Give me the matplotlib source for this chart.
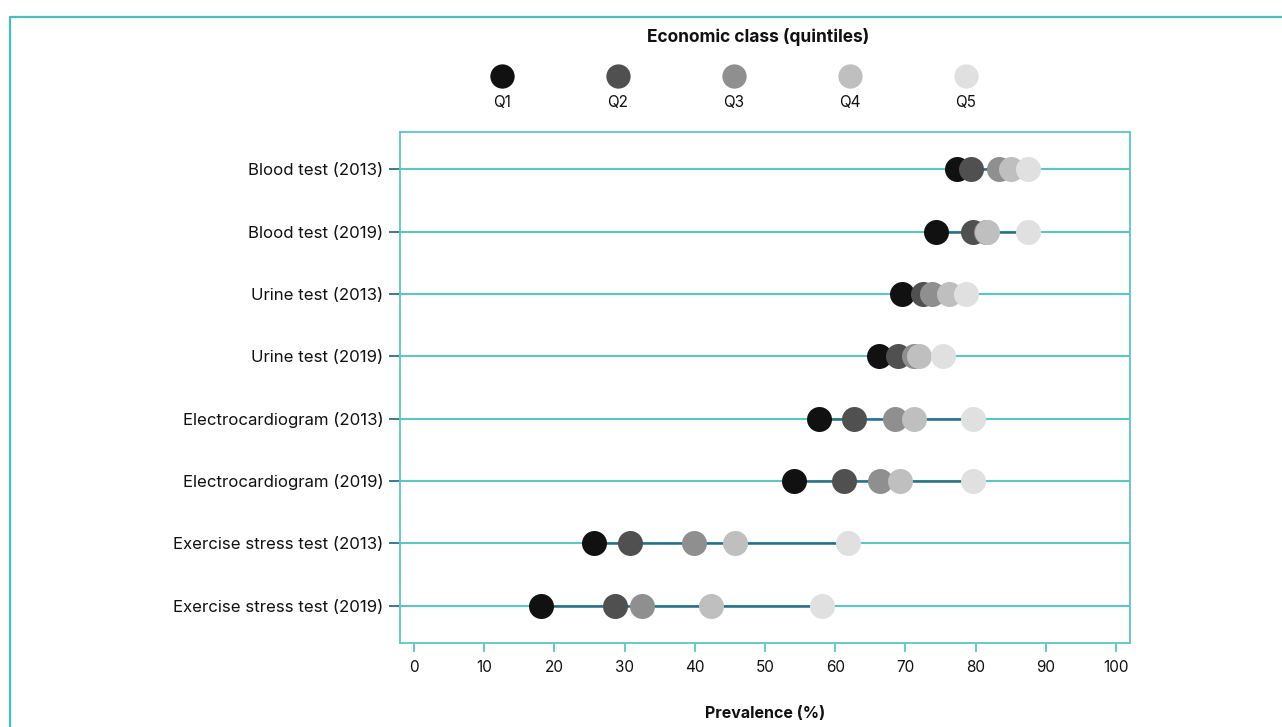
import matplotlib
matplotlib.use("Agg")
import matplotlib.pyplot as plt
from matplotlib.lines import Line2D

categories = [
    "Blood test (2013)",
    "Blood test (2019)",
    "Urine test (2013)",
    "Urine test (2019)",
    "Electrocardiogram (2013)",
    "Electrocardiogram (2019)",
    "Exercise stress test (2013)",
    "Exercise stress test (2019)",
]
quintiles = ["Q1", "Q2", "Q3", "Q4", "Q5"]
q1 = [77.3, 74.3, 69.5, 66.2, 57.7, 54.1, 25.7, 18.1]
q2 = [79.3, 79.6, 72.5, 68.9, 62.7, 61.2, 30.8, 28.6]
q3 = [83.3, 81.5, 73.8, 71.2, 68.5, 66.4, 39.9, 32.5]
q4 = [85.0, 81.6, 76.2, 72.0, 71.2, 69.3, 45.7, 42.3]
q5 = [87.5, 87.5, 78.6, 75.3, 79.6, 79.6, 61.8, 58.1]
series = [q1, q2, q3, q4, q5]
colors = ["#111111", "#505050", "#8f8f8f", "#bfbfbf", "#e0e0e0"]
xticks = [0, 10, 20, 30, 40, 50, 60, 70, 80, 90, 100]

plt.rcParams["font.family"] = ["Inter", "DejaVu Sans"]
teal = "#5cc6c6"
dark = "#2b6e8c"

W, H = 1282, 727
fig = plt.figure(figsize=(W / 100, H / 100), dpi=100)
ax = fig.add_axes([400 / W, 1 - 643 / H, 730 / W, 511 / H])

ypos = list(range(len(categories)))
for y in ypos:
    ax.axhline(y, color=teal, lw=1.5, zorder=1)
for i, y in enumerate(ypos):
    vals = [s[i] for s in series]
    ax.plot([min(vals), max(vals)], [y, y], color=dark, lw=1.8, zorder=2,
            solid_capstyle="butt")
for s, c, q in zip(series, colors, quintiles):
    ax.plot(s, ypos, "o", ms=18, color=c, mec="none", zorder=3, label=q)

ax.set_xlim(-2, 102)
ax.set_ylim(len(categories) - 0.4, -0.6)
ax.set_yticks(ypos)
ax.set_yticklabels(categories, fontsize=12.1, color="#111111")
ax.set_xticks(xticks)
ax.set_xticklabels([str(t) for t in xticks], fontsize=11, color="#111111")
for sp in ax.spines.values():
    sp.set_color(teal)
    sp.set_linewidth(1.3)
ax.tick_params(axis="y", length=8, width=1.3, color=dark, pad=4)
ax.tick_params(axis="x", length=6.5, width=1.3, color=teal, pad=6)

fig.text(765 / W, 1 - 714 / H, "Prevalence (%)", ha="center", va="center",
         fontsize=11.5, fontweight="bold", color="#111111")

# legend
fig.text(758 / W, 1 - 37 / H, "Economic class (quintiles)", ha="center",
         va="center", fontsize=12.5, fontweight="bold", color="#111111")
lx = [502, 618, 734, 850, 966]
for x, c, q in zip(lx, colors, quintiles):
    fig.add_artist(Line2D([x / W], [1 - 76 / H], marker="o", ms=17.5, color=c,
                          mec="none", transform=fig.transFigure))
    fig.text(x / W, 1 - 103 / H, q, ha="center", va="center", fontsize=11,
             color="#111111")

# outer border (top and left visible)
fig.add_artist(Line2D([10 / W, 10 / W, 1.0], [0.0, 1 - 17 / H, 1 - 17 / H],
                      color="#45bfbf", lw=1.6, transform=fig.transFigure))

fig.savefig("out.png", dpi=100, facecolor="white")
